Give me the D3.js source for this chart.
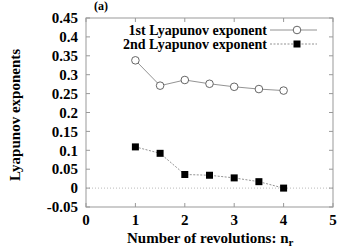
<!DOCTYPE html>
<html>
<head>
<meta charset="utf-8">
<script src="https://cdn.jsdelivr.net/npm/d3@7"></script>
<style>
  body { margin: 0; background: #fff; }
  text { font-family: "Liberation Serif", "DejaVu Serif", serif; font-weight: bold; }
</style>
</head>
<body>
<div class="canvas"></div>
<script>
const revolutions = [1, 1.5, 2, 2.5, 3, 3.5, 4];
const firstExponent = [0.338, 0.271, 0.286, 0.276, 0.268, 0.262, 0.258];
const secondExponent = [0.109, 0.092, 0.036, 0.034, 0.027, 0.017, 0.0];
const xTicks = [0, 1, 2, 3, 4, 5];
const yTicks = [-0.05, 0, 0.05, 0.1, 0.15, 0.2, 0.25, 0.3, 0.35, 0.4, 0.45];

const svg = d3.select('.canvas')
  .append('svg')
  .attr('width', 360)
  .attr('height', 252);

const mLeft = 86, mRight = 333, mTop = 18, mBottom = 207;

const x = d3.scaleLinear().domain([0, 5]).range([mLeft, mRight]);
const y = d3.scaleLinear().domain([-0.05, 0.45]).range([mBottom, mTop]);

const frameColor = '#999';

// zero line
svg.append('line')
  .attr('x1', mLeft).attr('x2', mRight)
  .attr('y1', y(0)).attr('y2', y(0))
  .attr('stroke', '#bbb')
  .attr('stroke-width', 1)
  .attr('stroke-dasharray', '1,2');

// frame
svg.append('rect')
  .attr('x', mLeft).attr('y', mTop)
  .attr('width', mRight - mLeft).attr('height', mBottom - mTop)
  .attr('fill', 'none')
  .attr('stroke', frameColor)
  .attr('stroke-width', 1);

// ticks on all sides, pointing in
const tick = 4;
yTicks.forEach(v => {
  svg.append('line').attr('x1', mLeft).attr('x2', mLeft + tick)
    .attr('y1', y(v)).attr('y2', y(v)).attr('stroke', frameColor);
  svg.append('line').attr('x1', mRight).attr('x2', mRight - tick)
    .attr('y1', y(v)).attr('y2', y(v)).attr('stroke', frameColor);
  svg.append('text')
    .attr('x', mLeft - 8).attr('y', y(v))
    .attr('dy', '0.35em')
    .attr('text-anchor', 'end')
    .attr('font-size', 15)
    .text(String(v));
});
xTicks.forEach(v => {
  svg.append('line').attr('x1', x(v)).attr('x2', x(v))
    .attr('y1', mBottom).attr('y2', mBottom - tick).attr('stroke', frameColor);
  svg.append('line').attr('x1', x(v)).attr('x2', x(v))
    .attr('y1', mTop).attr('y2', mTop + tick).attr('stroke', frameColor);
  svg.append('text')
    .attr('x', x(v)).attr('y', 225)
    .attr('text-anchor', 'middle')
    .attr('font-size', 15)
    .text(v);
});

// axis titles
svg.append('text')
  .attr('transform', `translate(20, 115) rotate(-90)`)
  .attr('text-anchor', 'middle')
  .attr('font-size', 15)
  .text('Lyapunov exponents');

const xl = svg.append('text')
  .attr('x', 127).attr('y', 243)
  .attr('font-size', 15);
xl.append('tspan').text('Number of revolutions: n');
xl.append('tspan').attr('font-size', 11).attr('dy', 3).text('r');

svg.append('text')
  .attr('x', 101).attr('y', 10)
  .attr('text-anchor', 'middle')
  .attr('font-size', 12)
  .text('(a)');

const pts1 = revolutions.map((r, i) => [r, firstExponent[i]]);
const pts2 = revolutions.map((r, i) => [r, secondExponent[i]]);
const line = d3.line().x(d => x(d[0])).y(d => y(d[1]));

svg.append('path').attr('d', line(pts1))
  .attr('fill', 'none').attr('stroke', '#777').attr('stroke-width', 0.8);
svg.append('path').attr('d', line(pts2))
  .attr('fill', 'none').attr('stroke', '#777').attr('stroke-width', 0.8)
  .attr('stroke-dasharray', '2,1.5');

svg.selectAll('.c').data(pts1).join('circle')
  .attr('cx', d => x(d[0])).attr('cy', d => y(d[1])).attr('r', 3.8)
  .attr('fill', '#fff').attr('stroke', '#555').attr('stroke-width', 0.9);
svg.selectAll('.s').data(pts2).join('rect')
  .attr('x', d => x(d[0]) - 3.5).attr('y', d => y(d[1]) - 3.5)
  .attr('width', 7).attr('height', 7).attr('fill', '#000');

// legend
const legend = [
  { label: '1st Lyapunov exponent', y: 30, kind: 'circle' },
  { label: '2nd Lyapunov exponent', y: 44, kind: 'square' }
];
legend.forEach(l => {
  svg.append('text').attr('x', 267).attr('y', l.y).attr('dy', '0.35em')
    .attr('text-anchor', 'end').attr('font-size', 14).text(l.label);
  svg.append('line').attr('x1', 270).attr('x2', 317)
    .attr('y1', l.y).attr('y2', l.y)
    .attr('stroke', '#777').attr('stroke-width', 0.8)
    .attr('stroke-dasharray', l.kind === 'square' ? '2,1.5' : null);
  if (l.kind === 'circle') {
    svg.append('circle').attr('cx', 297).attr('cy', l.y).attr('r', 3.8)
      .attr('fill', '#fff').attr('stroke', '#555').attr('stroke-width', 0.9);
  } else {
    svg.append('rect').attr('x', 293.5).attr('y', l.y - 3.5)
      .attr('width', 7).attr('height', 7).attr('fill', '#000');
  }
});
</script>
</body>
</html>
